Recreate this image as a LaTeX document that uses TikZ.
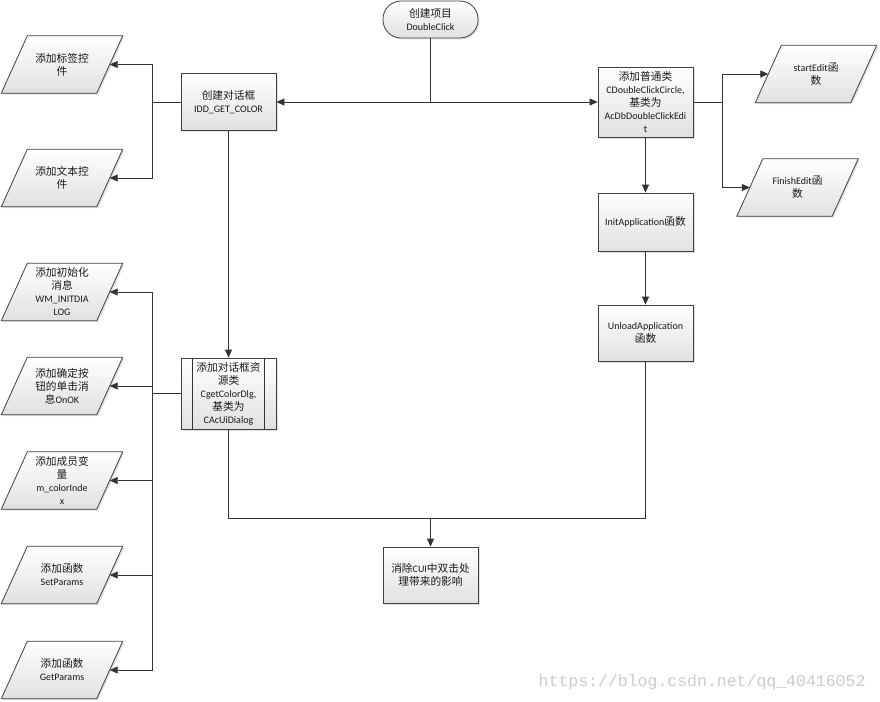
\documentclass[tikz,border=0pt]{standalone}
\usepackage{fontspec}
\setmainfont{Carlito}
\newfontfamily\zh{Noto Sans CJK SC}[Scale=1.07]
\newfontfamily\wmfont{Liberation Mono}
\usetikzlibrary{arrows.meta,shadows,backgrounds}
\begin{document}
\begin{tikzpicture}[x=1pt,y=-1pt,
  font=\fontsize{10}{13}\selectfont, text=black!90,
  look/.style={draw=black!75, line width=0.8pt, top color=white, bottom color=black!12,
    drop shadow={shadow xshift=1.5pt,shadow yshift=-1.5pt,fill=black!30,opacity=0.4}},
  base/.style={look, align=center, inner sep=1pt},
  box/.style={base, rectangle, minimum width=95pt},
  io/.style={rectangle, align=center, inner sep=1pt, minimum width=95pt, minimum height=57pt},
  term/.style={base, rectangle, rounded corners=18pt, minimum width=95pt, minimum height=37pt},
  conn/.style={draw=black!80, line width=0.8pt},
  arr/.style={conn, -{Triangle[length=8pt,width=7pt]}}
]
\useasboundingbox (0,0) rectangle (880,701);

% process nodes
\node[term] (start) at (430.5,19.5) {{\zh 创建项目}\\DoubleClick};
\node[box, minimum height=57pt] (dlg) at (228.5,102) {{\zh 创建对话框}\\IDD\_GET\_COLOR};
\node[box, minimum height=70pt] (cls) at (645.5,102) {{\zh 添加普通类}\\CDoubleClickCircle,\\{\zh 基类为}\\AcDbDoubleClickEdi\\t};
\node[box, minimum height=58pt] (init) at (645.5,222) {InitApplication{\zh 函数}};
\node[box, minimum height=56pt] (unl) at (645.5,333) {UnloadApplication\\{\zh 函数}};
\node[box, minimum height=71pt] (sub) at (228.5,393.5) {{\zh 添加对话框资}\\{\zh 源类}\\CgetColorDlg,\\{\zh 基类为}\\CAcUiDialog};
\draw[conn] ([xshift=12pt]sub.north west) -- ([xshift=12pt]sub.south west);
\draw[conn] ([xshift=-12pt]sub.north east) -- ([xshift=-12pt]sub.south east);
\node[box, minimum height=56pt] (fin) at (430.5,575) {{\zh 消除}CUI{\zh 中双击处}\\{\zh 理带来的影响}};

% input/output nodes (parallelograms drawn on the background layer)
\node[io] (p1) at (62,64.5) {{\zh 添加标签控}\\{\zh 件}};
\node[io] (p2) at (62,178) {{\zh 添加文本控}\\{\zh 件}};
\node[io] (p3) at (62,292) {{\zh 添加初始化}\\{\zh 消息}\\WM\_INITDIA\\LOG};
\node[io] (p4) at (62,386) {{\zh 添加确定按}\\{\zh 钮的单击消}\\{\zh 息}OnOK};
\node[io] (p5) at (62,480.5) {{\zh 添加成员变}\\{\zh 量}\\m\_colorInde\\x};
\node[io] (p6) at (62,575) {{\zh 添加函数}\\SetParams};
\node[io] (p7) at (62,670) {{\zh 添加函数}\\GetParams};
\node[io] (sE) at (816,74) {startEdit{\zh 函}\\{\zh 数}};
\node[io] (fE) at (797.5,187.5) {FinishEdit{\zh 函}\\{\zh 数}};

\begin{pgfonlayer}{background}
\fill[white] (0,0) rectangle (880,701);
\foreach \n in {p1,p2,p3,p4,p5,p6,p7,sE,fE}{
  \path[look] ([xshift=13pt]\n.north west) -- ([xshift=13pt]\n.north east)
    -- ([xshift=-13pt]\n.south east) -- ([xshift=-13pt]\n.south west) -- cycle;
}
\end{pgfonlayer}

% connectors
\coordinate (jt) at (start.south |- dlg.east);
\draw[conn] (start.south) -- (jt);
\draw[arr] (jt) -- (dlg.east);
\draw[arr] (jt) -- (cls.west);

\coordinate (jl) at (152,102);
\draw[conn] (dlg.west) -- (jl);
\draw[arr] (jl) |- (p1.east);
\draw[arr] (jl) |- (p2.east);

\draw[arr] (dlg.south) -- (sub.north);
\coordinate (jl2) at (152,393.5);
\draw[conn] (sub.west) -- (jl2);
\draw[arr] (jl2) |- (p3.east);
\draw[arr] (jl2) |- (p4.east);
\draw[arr] (jl2) |- (p5.east);
\draw[arr] (jl2) |- (p6.east);
\draw[arr] (jl2) |- (p7.east);

\coordinate (jr) at (722,102);
\draw[conn] (cls.east) -- (jr);
\draw[arr] (jr) |- (sE.west);
\draw[arr] (jr) |- (fE.west);
\draw[arr] (cls.south) -- (init.north);
\draw[arr] (init.south) -- (unl.north);

\coordinate (jb) at (430.5,518);
\draw[conn] (sub.south) |- (jb);
\draw[conn] (unl.south) |- (jb);
\draw[arr] (jb) -- (fin.north);

% watermark
\node[font=\wmfont\fontsize{16.5}{16.5}\selectfont, text=black!20, anchor=east] (wm) at (869,682) {https://blog.csdn.net/qq\_40416052};
\end{tikzpicture}
\end{document}
